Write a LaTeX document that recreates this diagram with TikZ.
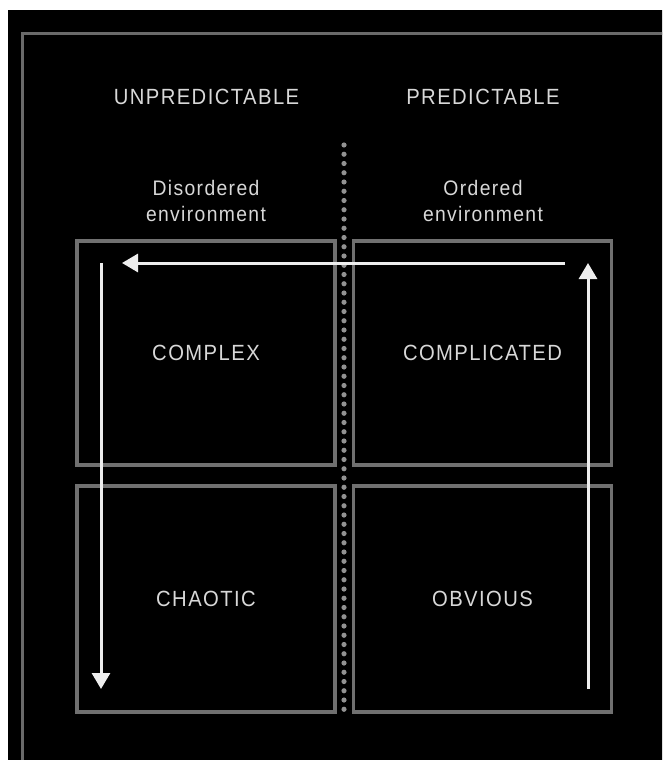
\documentclass[tikz,border=0pt]{standalone}
\usepackage{fontspec}
\setmainfont{Liberation Sans}[LetterSpace=6.5, FakeStretch=0.92]
\usetikzlibrary{arrows.meta}

\definecolor{panel}{HTML}{000000}
\definecolor{framec}{HTML}{6A6A6A}
\definecolor{boxc}{HTML}{707070}
\definecolor{dotc}{HTML}{929292}
\definecolor{ink}{HTML}{D8D8D8}
\definecolor{arrowc}{HTML}{EEEEEE}

\tikzset{
  quadrant/.style={draw=boxc, line width=3.2pt, minimum width=258pt, minimum height=224pt,
    inner sep=0pt, text=ink, font=\fontsize{22}{28}\selectfont},
  heading/.style={text=ink, font=\fontsize{22}{28}\selectfont, inner sep=0pt},
  subhead/.style={text=ink, font=\fontsize{21}{26}\selectfont, align=center, inner sep=0pt},
  flow/.style={draw=arrowc, line width=3pt, -{Triangle[length=16pt,width=18pt]}},
}

\begin{document}
\begin{tikzpicture}[x=1pt, y=-1pt]
  \useasboundingbox (0,0) rectangle (662,760);
  \clip (0,0) rectangle (662,760);

  % dark panel and outer frame
  \fill[white] (0,0) rectangle (662,760);
  \fill[panel] (8,10) rectangle (670,770);
  \draw[framec, line width=3pt] (22,34) rectangle (700,800);

  % column headings
  \node[heading] (unpred) at (206.5,97) {UNPREDICTABLE};
  \node[heading] (pred) at (483,97) {PREDICTABLE};

  \node[subhead] (disord) at (206,201) {Disordered\\environment};
  \node[subhead] (order) at (483,201) {Ordered\\environment};

  % quadrants
  \node[quadrant] (complex) at (206,353) {COMPLEX};
  \node[quadrant] (complicated) at (482.5,353) {COMPLICATED};
  \node[quadrant, minimum height=226pt] (chaotic) at (206,599) {CHAOTIC};
  \node[quadrant, minimum height=226pt] (obvious) at (482.5,599) {OBVIOUS};

  % dotted divider
  \foreach \i in {0,...,61}
    \fill[dotc] (344,145+\i*9.25) circle (2.6pt);

  % flow arrows
  \coordinate (rbottom) at (588,689);
  \coordinate (rtop) at (588,263);
  \coordinate (hstart) at (565,263);
  \coordinate (hend) at (122,263);
  \coordinate (ltop) at (101,263);
  \coordinate (lbottom) at (101,689);

  \draw[flow] (rbottom) -- (rtop);
  \draw[flow] (hstart) -- (hend);
  \draw[flow] (ltop) -- (lbottom);
\end{tikzpicture}
\end{document}
